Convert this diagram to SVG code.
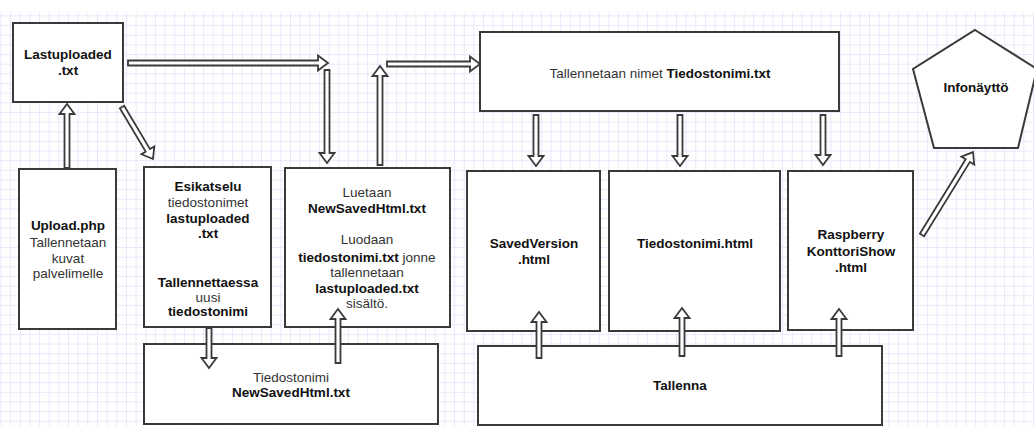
<svg xmlns="http://www.w3.org/2000/svg" width="1034" height="426" viewBox="0 0 1034 426">
<style>
.box{fill:#fff;stroke:#3a3a3a;stroke-width:2}
.arr{fill:#fff;stroke:#3a3a3a;stroke-width:1.8;stroke-linejoin:miter}
text{font-family:"Liberation Sans",Arial,sans-serif;font-size:13.5px;fill:#333;text-anchor:middle}
.b{font-weight:bold;fill:#111}
</style>
<defs>
<pattern id="grid" width="9.65" height="9.65" patternUnits="userSpaceOnUse" x="0.5" y="5.8">
<path d="M0 0.5H9.65M0.5 0V9.65" stroke="#e8e8fb" stroke-width="1" fill="none"/>
</pattern>
</defs>
<rect x="0" y="0" width="1034" height="426" fill="#fff"/>
<rect x="0" y="12" width="1034" height="414" fill="url(#grid)"/>

<g id="lastuploaded">
<rect class="box" x="13" y="23" width="110" height="79"/>
<text class="b" x="68" y="59">Lastuploaded</text>
<text class="b" x="68" y="75">.txt</text>
</g>

<g id="upload">
<rect class="box" x="19" y="169" width="97" height="160"/>
<text x="68" y="230"><tspan class="b">Upload.php</tspan></text>
<text x="68" y="247">Tallennetaan</text>
<text x="68" y="263">kuvat</text>
<text x="68" y="278">palvelimelle</text>
</g>

<g id="esikatselu">
<rect class="box" x="144" y="167" width="127" height="160"/>
<text class="b" x="208" y="191">Esikatselu</text>
<text x="208" y="207">tiedostonimet</text>
<text class="b" x="208" y="223">lastuploaded</text>
<text class="b" x="208" y="238">.txt</text>
<text class="b" x="208" y="287">Tallennettaessa</text>
<text x="208" y="302">uusi</text>
<text class="b" x="208" y="316">tiedostonimi</text>
</g>

<g id="luetaan">
<rect class="box" x="285" y="168" width="165" height="159"/>
<text x="367" y="197">Luetaan</text>
<text class="b" x="367" y="213">NewSavedHtml.txt</text>
<text x="367" y="244">Luodaan</text>
<text x="367" y="262"><tspan class="b">tiedostonimi.txt</tspan> jonne</text>
<text x="367" y="277">tallennetaan</text>
<text class="b" x="367" y="293">lastuploaded.txt</text>
<text x="367" y="308">sisältö.</text>
</g>

<g id="tiedostonimi-newsaved">
<rect class="box" x="144" y="344" width="294" height="80"/>
<text x="291" y="382">Tiedostonimi</text>
<text class="b" x="291" y="397">NewSavedHtml.txt</text>
</g>

<g id="tallennetaan">
<rect class="box" x="480" y="32" width="359" height="79"/>
<text x="660" y="78">Tallennetaan nimet <tspan class="b">Tiedostonimi.txt</tspan></text>
</g>

<g id="savedversion">
<rect class="box" x="467" y="171" width="133" height="160"/>
<text class="b" x="534" y="248">SavedVersion</text>
<text class="b" x="534" y="264">.html</text>
</g>

<g id="tiedostonimi-html">
<rect class="box" x="609" y="171" width="171" height="160"/>
<text class="b" x="695" y="248">Tiedostonimi.html</text>
</g>

<g id="raspberry">
<rect class="box" x="788" y="171" width="125" height="159"/>
<text class="b" x="851" y="239">Raspberry</text>
<text class="b" x="851" y="256">KonttoriShow</text>
<text class="b" x="851" y="272">.html</text>
</g>

<g id="tallenna">
<rect class="box" x="478" y="346" width="404" height="79"/>
<text class="b" x="680" y="390">Tallenna</text>
</g>

<g id="infonaytto">
<polygon class="box" points="975,30 1037,69 1018,148 934,148 913,69"/>
<text class="b" x="976" y="92">Infonäyttö</text>
</g>

<g id="connectors">
<polygon class="arr" transform="translate(67,168) rotate(-90)" points="0,-2.5 54,-2.5 54,-7.5 64,0 54,7.5 54,2.5 0,2.5"/>
<polygon class="arr" transform="translate(122,107) rotate(59.2)" points="0,-2.5 50.5,-2.5 50.5,-7.5 60.5,0 50.5,7.5 50.5,2.5 0,2.5"/>
<polygon class="arr" transform="translate(128,63)" points="0,-2.5 190,-2.5 190,-7.5 200,0 190,7.5 190,2.5 0,2.5"/>
<polygon class="arr" transform="translate(327,70) rotate(90)" points="0,-2.5 83,-2.5 83,-7.5 93,0 83,7.5 83,2.5 0,2.5"/>
<polygon class="arr" transform="translate(380,165) rotate(-90)" points="0,-2.5 89,-2.5 89,-7.5 99,0 89,7.5 89,2.5 0,2.5"/>
<polygon class="arr" transform="translate(387,64)" points="0,-2.5 83,-2.5 83,-7.5 93,0 83,7.5 83,2.5 0,2.5"/>
<polygon class="arr" transform="translate(209,328) rotate(90)" points="0,-2.5 30,-2.5 30,-7.5 40,0 30,7.5 30,2.5 0,2.5"/>
<polygon class="arr" transform="translate(338,363) rotate(-90)" points="0,-2.5 44,-2.5 44,-7.5 54,0 44,7.5 44,2.5 0,2.5"/>
<polygon class="arr" transform="translate(536,115) rotate(90)" points="0,-2.5 41,-2.5 41,-7.5 51,0 41,7.5 41,2.5 0,2.5"/>
<polygon class="arr" transform="translate(680,115) rotate(90)" points="0,-2.5 41,-2.5 41,-7.5 51,0 41,7.5 41,2.5 0,2.5"/>
<polygon class="arr" transform="translate(823,115) rotate(90)" points="0,-2.5 40,-2.5 40,-7.5 50,0 40,7.5 40,2.5 0,2.5"/>
<polygon class="arr" transform="translate(539,358) rotate(-90)" points="0,-2.5 36,-2.5 36,-7.5 46,0 36,7.5 36,2.5 0,2.5"/>
<polygon class="arr" transform="translate(682,356) rotate(-90)" points="0,-2.5 38,-2.5 38,-7.5 48,0 38,7.5 38,2.5 0,2.5"/>
<polygon class="arr" transform="translate(839,356) rotate(-90)" points="0,-2.5 37,-2.5 37,-7.5 47,0 37,7.5 37,2.5 0,2.5"/>
<polygon class="arr" transform="translate(922,235) rotate(-58.4)" points="0,-2.5 87.4,-2.5 87.4,-7.5 97.4,0 87.4,7.5 87.4,2.5 0,2.5"/>
</g>
</svg>
